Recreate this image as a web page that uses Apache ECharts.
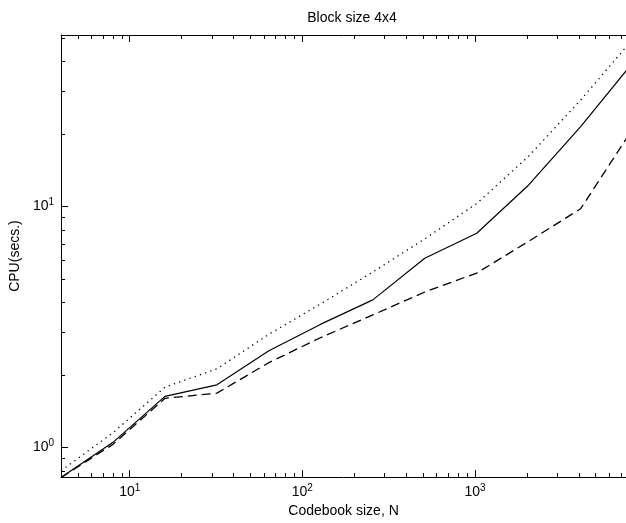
<!DOCTYPE html>
<html>
<head>
<meta charset="utf-8">
<script src="https://cdn.jsdelivr.net/npm/echarts@6/dist/echarts.min.js"></script>
<style>html,body{margin:0;padding:0;background:#fff}#c{width:626px;height:523px}</style>
</head>
<body>
<div id="c"></div>
<script>
// ---- data ----
const codebookN = [4, 8, 16, 32, 64, 128, 256, 512, 1024, 2048, 4096, 8192];
const cpuSolid  = [0.75, 1.05, 1.63, 1.82, 2.52, 3.25, 4.1, 6.1, 7.75, 12.3, 21.5, 39.5];
const cpuDotted = [0.80, 1.15, 1.78, 2.12, 2.95, 3.95, 5.35, 7.35, 10.3, 16.2, 27.7, 49.5];
const cpuDashed = [0.75, 1.03, 1.60, 1.68, 2.25, 2.86, 3.55, 4.42, 5.3, 7.18, 9.8, 21.0];
const xMajorTicks = [10, 100, 1000];
const xMinorTicks = [5,6,7,8,9, 20,30,40,50,60,70,80,90, 200,300,400,500,600,700,800,900, 2000,3000,4000,5000,6000,7000];
const yMajorTicks = [1, 10];
const yMinorTicks = [0.8, 0.9, 2,3,4,5,6,7,8,9, 20,30,40,50];
const titleText = 'Block size 4x4';
const xName = 'Codebook size, N';
const yName = 'CPU(secs.)';
const X_MIN = 4, X_MAX = 7500, Y_MIN = 0.753, Y_MAX = 51.6;

const FONT = "'Liberation Sans', Arial, Helvetica, sans-serif";
const pairs = arr => codebookN.map((n, i) => [n, arr[i]]);
const lg = v => Math.log10(v);

function powLabel(value) {
  const e = Math.round(Math.log10(value));
  if (Math.abs(Math.log10(value) - e) > 1e-6) return '';
  return '{b|10}{s|' + e + '}';
}
const richLbl = {
  b: { fontSize: 14, fontFamily: FONT, color: '#000' },
  s: { fontSize: 10, fontFamily: FONT, color: '#000', padding: [0, 0, 8, 0] }
};

function tickAxis(pos, values, len, min, max) {
  return {
    type: 'value', position: pos, min: min, max: max,
    axisLine: { show: false, onZero: false },
    axisTick: { show: true, inside: true, length: len, customValues: values.map(lg),
      lineStyle: { color: '#000', width: 1 } },
    axisLabel: { show: false }, splitLine: { show: false }
  };
}

const chart = echarts.init(document.getElementById('c'), null, { renderer: 'canvas' });
const xl = [lg(X_MIN), lg(X_MAX)], yl = [lg(Y_MIN), lg(Y_MAX)];
const option = {
  backgroundColor: '#fff',
  animation: false,
  title: {
    text: titleText, left: 347, top: 6, textAlign: 'center',
    textStyle: { fontSize: 14, fontWeight: 'normal', fontFamily: FONT, color: '#000' }
  },
  grid: { left: 61, right: 0, top: 35, bottom: 40, containLabel: false },
  xAxis: [
    { type: 'log', logBase: 10, min: X_MIN, max: X_MAX, position: 'bottom',
      name: xName, nameLocation: 'middle', nameGap: 26,
      nameTextStyle: { fontSize: 14, fontFamily: FONT, color: '#000' },
      axisLine: { show: true, onZero: false, lineStyle: { color: '#000', width: 1 } },
      axisTick: { show: false },
      axisLabel: { formatter: powLabel, rich: richLbl, margin: 6, showMinLabel: false, showMaxLabel: false },
      splitLine: { show: false } },
    { type: 'log', logBase: 10, min: X_MIN, max: X_MAX, position: 'top',
      axisLine: { show: true, onZero: false, lineStyle: { color: '#000', width: 1 } },
      axisTick: { show: false }, axisLabel: { show: false }, splitLine: { show: false } },
    tickAxis('bottom', xMajorTicks, 7, xl[0], xl[1]),
    tickAxis('bottom', xMinorTicks, 4, xl[0], xl[1]),
    tickAxis('top', xMajorTicks, 7, xl[0], xl[1]),
    tickAxis('top', xMinorTicks, 4, xl[0], xl[1])
  ],
  yAxis: [
    { type: 'log', logBase: 10, min: Y_MIN, max: Y_MAX, position: 'left',
      name: yName, nameLocation: 'middle', nameGap: 38, nameRotate: 90,
      nameTextStyle: { fontSize: 14, fontFamily: FONT, color: '#000' },
      axisLine: { show: true, onZero: false, lineStyle: { color: '#000', width: 1 } },
      axisTick: { show: false },
      axisLabel: { formatter: powLabel, rich: richLbl, margin: 7, showMinLabel: false, showMaxLabel: false },
      splitLine: { show: false } },
    tickAxis('left', yMajorTicks, 7, yl[0], yl[1]),
    tickAxis('left', yMinorTicks, 4, yl[0], yl[1])
  ],
  series: [
    { name: 'solid', type: 'line', xAxisIndex: 0, yAxisIndex: 0, data: pairs(cpuSolid),
      showSymbol: false, symbol: 'none', lineStyle: { color: '#000', width: 1.2, type: 'solid' } },
    { name: 'dotted', type: 'line', xAxisIndex: 0, yAxisIndex: 0, data: pairs(cpuDotted),
      showSymbol: false, symbol: 'none', lineStyle: { color: '#000', width: 1.3, type: [1.3, 4.2] } },
    { name: 'dashed', type: 'line', xAxisIndex: 0, yAxisIndex: 0, data: pairs(cpuDashed),
      showSymbol: false, symbol: 'none', lineStyle: { color: '#000', width: 1.3, type: [9, 5] } }
  ]
};
chart.setOption(option);
</script>
</body>
</html>
